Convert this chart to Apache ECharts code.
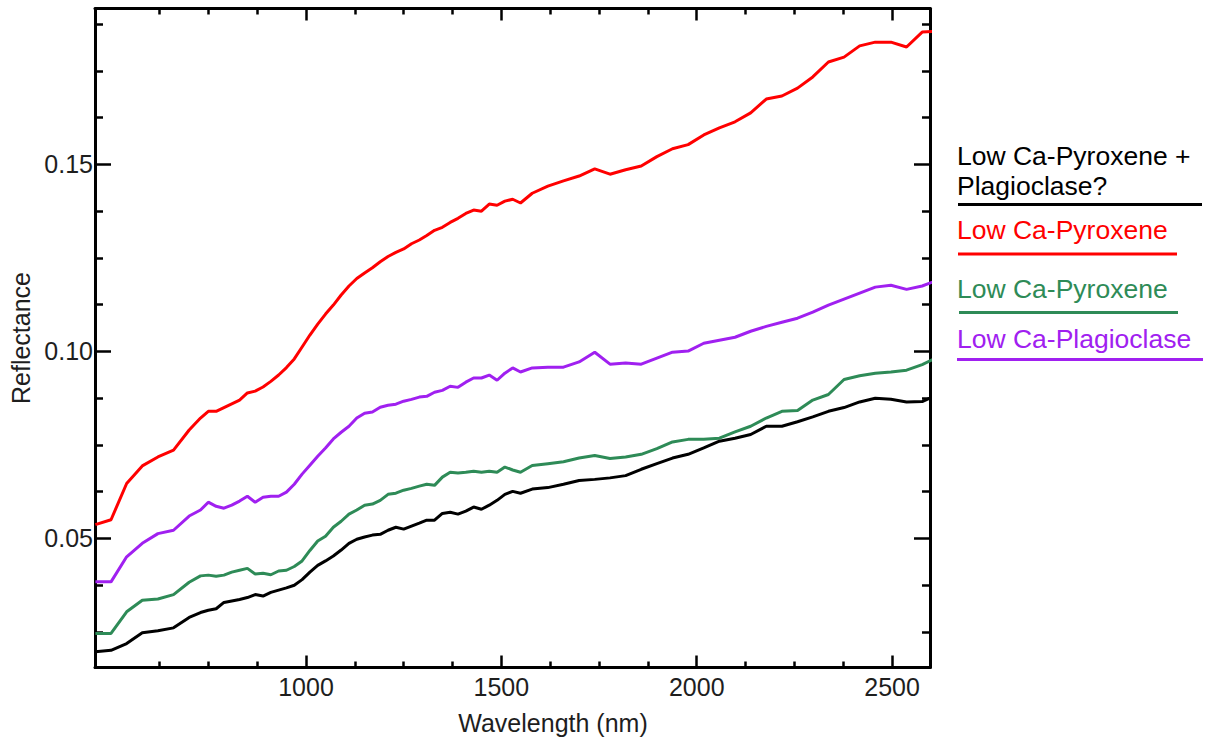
<!DOCTYPE html>
<html>
<head>
<meta charset="utf-8">
<script src="https://cdn.jsdelivr.net/npm/echarts@6/dist/echarts.min.js"></script>
<style>
html,body{margin:0;padding:0;background:#fff;}
#chart{width:1220px;height:742px;}
</style>
</head>
<body>
<div id="chart"></div>
<script>
// Wavelengths (nm)
const wavelengths = [461,501,541,581,621,661,701,730,750,770,790,810,830,850,870,890,910,930,950,970,990,1010,1030,1050,1070,1090,1110,1130,1150,1170,1190,1210,1230,1250,1270,1290,1309,1329,1349,1369,1389,1409,1429,1449,1469,1489,1509,1529,1549,1579,1619,1659,1699,1739,1778,1818,1858,1898,1938,1978,2018,2058,2098,2138,2178,2218,2258,2297,2337,2377,2417,2457,2497,2537,2577,2617];

// Low Ca-Pyroxene + Plagioclase? (black)
const blackVals = [0.0197,0.0201,0.0219,0.0248,0.0253,0.0261,0.0289,
0.0302,0.0308,0.0312,0.0329,0.0333,0.0337,0.0342,0.0350,0.0346,0.0356,
0.0362,0.0368,0.0375,0.0390,0.0410,0.0428,0.0440,0.0453,0.0469,0.0487,
0.0498,0.0504,0.0509,0.0511,0.0522,0.0530,0.0525,0.0533,0.0541,0.0549,
0.0549,0.0567,0.0570,0.0565,0.0573,0.0584,0.0578,0.0589,0.0602,0.0618,
0.0626,0.0621,
0.0632,0.0636,0.0645,0.0655,0.0658,0.0662,0.0668,0.0685,0.0700,0.0715,
0.0725,0.0742,0.0760,0.0768,0.0778,0.0800,0.0800,0.0812,0.0825,0.0840,
0.0850,0.0865,0.0875,0.0872,0.0865,0.0866,0.0885];

// Low Ca-Pyroxene (red)
const redVals = [0.0537,0.0550,0.0647,0.0694,0.0718,0.0736,0.0790,
0.0822,0.0840,0.0840,0.0850,0.0860,0.0870,0.0889,0.0894,0.0905,0.0920,
0.0937,0.0957,0.0980,0.1012,0.1044,0.1073,0.1100,0.1124,0.1151,0.1175,
0.1195,0.1210,0.1224,0.1240,0.1254,0.1265,0.1274,0.1288,0.1298,0.1310,
0.1324,0.1332,0.1345,0.1356,0.1369,0.1378,0.1375,0.1394,0.1391,0.1402,
0.1407,0.1397,
0.1423,0.1442,0.1456,0.1469,0.1488,0.1474,0.1486,0.1496,0.1521,0.1542,
0.1553,0.1579,0.1598,0.1614,0.1638,0.1675,0.1683,0.1704,0.1734,0.1774,
0.1787,0.1817,0.1827,0.1827,0.1814,0.1854,0.1856];

// Low Ca-Pyroxene (green)
const greenVals = [0.0246,0.0246,0.0304,0.0335,0.0338,0.0350,0.0383,
0.0400,0.0402,0.0399,0.0402,0.0410,0.0415,0.0420,0.0405,0.0407,0.0403,
0.0413,0.0415,0.0425,0.0440,0.0468,0.0493,0.0506,0.0530,0.0546,0.0565,
0.0576,0.0589,0.0592,0.0602,0.0618,0.0621,0.0629,0.0634,0.0640,0.0645,
0.0642,0.0664,0.0677,0.0675,0.0677,0.0680,0.0677,0.0680,0.0677,0.0691,
0.0683,0.0677,
0.0695,0.0700,0.0705,0.0715,0.0722,0.0714,0.0718,0.0725,0.0740,0.0758,
0.0765,0.0765,0.0768,0.0785,0.0800,0.0822,0.0840,0.0842,0.0870,0.0885,
0.0925,0.0935,0.0942,0.0945,0.0950,0.0965,0.0985];

// Low Ca-Plagioclase (purple)
const purpleVals = [0.0384,0.0384,0.0451,0.0487,0.0513,0.0522,0.0560,
0.0576,0.0597,0.0586,0.0581,0.0589,0.0600,0.0613,0.0597,0.0610,0.0613,
0.0613,0.0624,0.0645,0.0672,0.0696,0.0720,0.0742,0.0766,0.0784,0.0800,
0.0822,0.0835,0.0838,0.0851,0.0856,0.0859,0.0867,0.0872,0.0878,0.0880,
0.0891,0.0896,0.0907,0.0904,0.0918,0.0929,0.0929,0.0937,0.0923,0.0942,
0.0956,0.0945,
0.0956,0.0958,0.0958,0.0972,0.0998,0.0966,0.0969,0.0966,0.0982,0.0998,
0.1001,0.1022,0.1030,0.1038,0.1054,0.1067,0.1078,0.1089,0.1105,0.1124,
0.1140,0.1156,0.1172,0.1177,0.1166,0.1175,0.1191];

// Ticks
const xMajorTicks = [1000,1500,2000,2500];
const xMinorTicks = [625,750,875,1125,1250,1375,1625,1750,1875,2125,2250,2375];
const yMajorTicks = [0.05,0.10,0.15];
const yMinorTicks = [0.025,0.0375,0.0625,0.075,0.0875,0.1125,0.125,0.1375,0.1625,0.175,0.1875];

const seriesNames = ['Low Ca-Pyroxene + Plagioclase?','Low Ca-Pyroxene','Low Ca-Pyroxene','Low Ca-Plagioclase'];
const seriesColors = ['#000000','#ff0000','#2e8b57','#a020f0'];

const X_MIN = 460, X_MAX = 2597, Y_MIN = 0.0155, Y_MAX = 0.1917;
const FONT = "'Liberation Sans', Arial, Helvetica, sans-serif";
const TXT = '#1e1e1e';
const LEG_FONT = '26.5px ' + FONT;

function pairs(vals){ return wavelengths.map((w,i)=>[w, vals[i]]); }

function xAx(pos, ticks, len, showLine, extra){
  return Object.assign({
    type:'value', position:pos, min:X_MIN, max:X_MAX,
    axisLine:{show:showLine, onZero:false, lineStyle:{color:'#000', width:3}},
    axisTick:{show:true, inside:true, length:len, customValues:ticks, lineStyle:{color:'#000', width:2.5}},
    axisLabel:{show:false},
    splitLine:{show:false}
  }, extra||{});
}
function yAx(pos, ticks, len, showLine, extra){
  return Object.assign({
    type:'value', position:pos, min:Y_MIN, max:Y_MAX,
    axisLine:{show:showLine, onZero:false, lineStyle:{color:'#000', width:3}},
    axisTick:{show:true, inside:true, length:len, customValues:ticks, lineStyle:{color:'#000', width:2.5}},
    axisLabel:{show:false},
    splitLine:{show:false}
  }, extra||{});
}

const chart = echarts.init(document.getElementById('chart'), null, {renderer:'svg'});

const legendGraphics = [];
function legendText(text, x, y, color){
  legendGraphics.push({type:'text', x:x, y:y, style:{text:text, fill:color, font:LEG_FONT, verticalAlign:'middle'}});
}
function legendLine(x1, x2, y, color){
  legendGraphics.push({type:'line', shape:{x1:x1, y1:y, x2:x2, y2:y}, style:{stroke:color, lineWidth:3}});
}
legendText('Low Ca-Pyroxene +', 957, 155.5, '#000');
legendText('Plagioclase?', 957, 185.5, '#000');
legendLine(958, 1202, 204.5, seriesColors[0]);
legendText('Low Ca-Pyroxene', 957, 230, seriesColors[1]);
legendLine(958, 1177, 254, seriesColors[1]);
legendText('Low Ca-Pyroxene', 957, 289, seriesColors[2]);
legendLine(959, 1178, 312.5, seriesColors[2]);
legendText('Low Ca-Plagioclase', 957, 339, seriesColors[3]);
legendLine(957, 1203, 359.5, seriesColors[3]);

const option = {
  animation:false,
  backgroundColor:'#ffffff',
  grid:{left:95, right:290, top:8.5, bottom:74.5, containLabel:false},
  xAxis:[
    xAx('bottom', xMajorTicks, 12, true, {
      name:'Wavelength (nm)', nameLocation:'middle', nameGap:43,
      nameTextStyle:{fontSize:25, fontFamily:FONT, color:TXT, padding:[0,0,0,81]},
      axisLabel:{show:true, customValues:xMajorTicks, fontSize:25, fontFamily:FONT, color:TXT, margin:7, formatter:(v)=>String(v)}
    }),
    xAx('bottom', xMinorTicks, 6, false),
    xAx('top', xMajorTicks, 12, true),
    xAx('top', xMinorTicks, 6, false)
  ],
  yAxis:[
    yAx('left', yMajorTicks, 16, true, {
      name:'Reflectance', nameLocation:'middle', nameGap:62,
      nameTextStyle:{fontSize:25, fontFamily:FONT, color:TXT},
      axisLabel:{show:true, customValues:yMajorTicks, fontSize:25, fontFamily:FONT, color:TXT, margin:2, formatter:(v)=>v.toFixed(2)}
    }),
    yAx('left', yMinorTicks, 8, false),
    yAx('right', yMajorTicks, 16, true),
    yAx('right', yMinorTicks, 8, false)
  ],
  graphic: legendGraphics,
  series:[
    {name:seriesNames[0], type:'line', data:pairs(blackVals), showSymbol:false, symbol:'none', lineStyle:{color:seriesColors[0], width:3}, itemStyle:{color:seriesColors[0]}, clip:true, z:5},
    {name:seriesNames[1], type:'line', data:pairs(redVals), showSymbol:false, symbol:'none', lineStyle:{color:seriesColors[1], width:3}, itemStyle:{color:seriesColors[1]}, clip:true, z:4},
    {name:seriesNames[2], type:'line', data:pairs(greenVals), showSymbol:false, symbol:'none', lineStyle:{color:seriesColors[2], width:3}, itemStyle:{color:seriesColors[2]}, clip:true, z:3},
    {name:seriesNames[3], type:'line', data:pairs(purpleVals), showSymbol:false, symbol:'none', lineStyle:{color:seriesColors[3], width:3}, itemStyle:{color:seriesColors[3]}, clip:true, z:2}
  ]
};
chart.setOption(option);
</script>
</body>
</html>
